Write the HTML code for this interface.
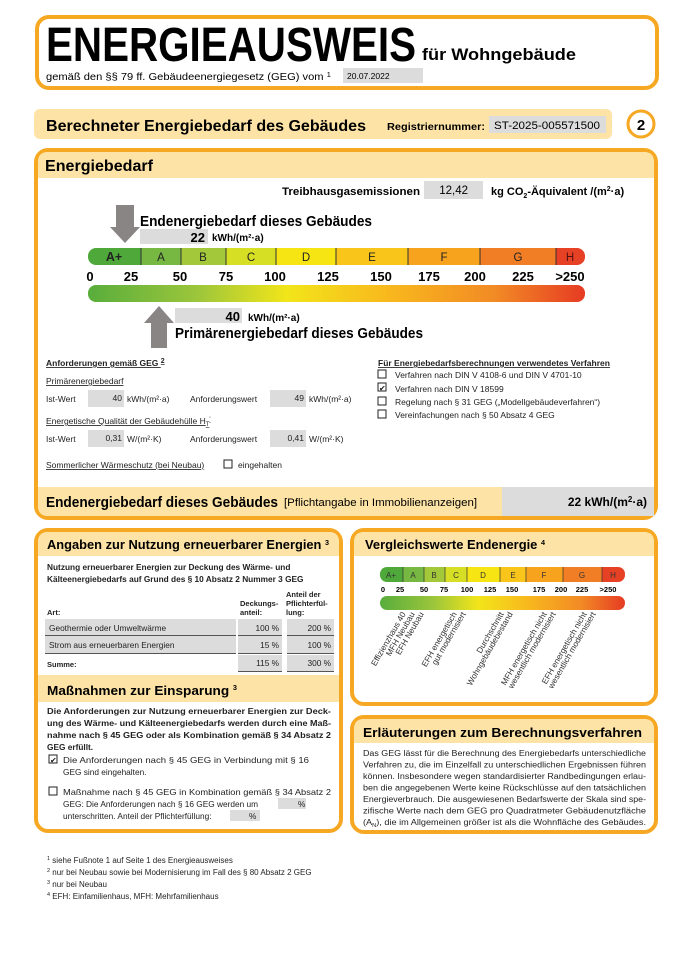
<!DOCTYPE html>
<html><head><meta charset="utf-8"><style>
html,body{margin:0;padding:0;background:#fff}
svg{display:block;font-family:"Liberation Sans",Arial,sans-serif}
</style></head><body>
<svg width="679" height="960" viewBox="0 0 679 960" xmlns="http://www.w3.org/2000/svg">
<defs>
<linearGradient id="g" x1="0" x2="1" y1="0" y2="0">
<stop offset="0" stop-color="#58ad3c"/><stop offset="0.22" stop-color="#9cc63b"/><stop offset="0.4" stop-color="#f2e51a"/><stop offset="0.6" stop-color="#f8b91d"/><stop offset="0.82" stop-color="#f28a25"/><stop offset="1" stop-color="#e63b24"/>
</linearGradient>
<clipPath id="c1"><rect x="88" y="248" width="497" height="17" rx="8"/></clipPath>
<clipPath id="c2"><rect x="380" y="567" width="245" height="15" rx="7"/></clipPath>
</defs>

<!-- Header -->
<rect x="37" y="17" width="620" height="71" rx="12" fill="#fff" stroke="#f7a823" stroke-width="4"/>
<text x="46" y="61" font-size="48" font-weight="bold" textLength="370" lengthAdjust="spacingAndGlyphs">ENERGIEAUSWEIS</text>
<text x="422" y="60" font-size="17" font-weight="bold" textLength="154" lengthAdjust="spacingAndGlyphs">für Wohngebäude</text>
<text x="46" y="80" font-size="10" textLength="285" lengthAdjust="spacingAndGlyphs">gemäß den §§ 79 ff. Gebäudeenergiegesetz (GEG) vom <tspan font-size="7" dy="-3">1</tspan></text>
<rect x="343" y="68" width="80" height="15" fill="#dcdcdc"/>
<text x="347" y="79" font-size="8.5">20.07.2022</text>

<!-- Bar 2 -->
<rect x="34" y="109" width="578" height="30" rx="6" fill="#fde3a6"/>
<text x="46" y="131" font-size="15.5" font-weight="bold" textLength="320" lengthAdjust="spacingAndGlyphs">Berechneter Energiebedarf des Gebäudes</text>
<text x="387" y="130" font-size="10.5" font-weight="bold" textLength="98" lengthAdjust="spacingAndGlyphs">Registriernummer:</text>
<rect x="489" y="116" width="117" height="17" fill="#dcdcdc"/>
<text x="494" y="129" font-size="11" textLength="106" lengthAdjust="spacingAndGlyphs">ST-2025-005571500</text>
<circle cx="641" cy="124" r="13" fill="#fff" stroke="#f7a823" stroke-width="3"/>
<text x="641" y="130" font-size="15" font-weight="bold" text-anchor="middle">2</text>

<!-- Energiebedarf panel -->
<rect x="36" y="150" width="620" height="368" rx="12" fill="#fff" stroke="#f7a823" stroke-width="4"/>
<path d="M38 178 V162 Q38 152 48 152 H644 Q654 152 654 162 V178 Z" fill="#fde3a6"/>
<text x="45" y="171" font-size="16" font-weight="bold" textLength="108" lengthAdjust="spacingAndGlyphs">Energiebedarf</text>

<text x="282" y="195" font-size="11" font-weight="bold" textLength="138" lengthAdjust="spacingAndGlyphs">Treibhausgasemissionen</text>
<rect x="424" y="181" width="59" height="18" fill="#dcdcdc"/>
<text x="468" y="194" font-size="11.5" text-anchor="end">12,42</text>
<text x="491" y="195" font-size="11" font-weight="bold">kg CO<tspan font-size="7" dy="3">2</tspan><tspan dy="-3">-Äquivalent /(m</tspan><tspan font-size="7" dy="-4">2</tspan><tspan dy="4">·a)</tspan></text>

<!-- arrow down -->
<rect x="116" y="205" width="18" height="23" fill="#8a8585"/>
<polygon points="110,227 140,227 125,243" fill="#8a8585"/>
<text x="140" y="226" font-size="14.5" font-weight="bold" textLength="232" lengthAdjust="spacingAndGlyphs">Endenergiebedarf dieses Gebäudes</text>
<rect x="140" y="229" width="68" height="15" fill="#dcdcdc"/>
<text x="205" y="242" font-size="13" font-weight="bold" text-anchor="end">22</text>
<text x="212" y="241" font-size="10" font-weight="bold">kWh/(m²·a)</text>

<!-- scale -->
<g clip-path="url(#c1)">
<rect x="88" y="248" width="53" height="17" fill="#4ea93a"/>
<rect x="141" y="248" width="40" height="17" fill="#77b842"/>
<rect x="181" y="248" width="45" height="17" fill="#a3c93a"/>
<rect x="226" y="248" width="50" height="17" fill="#d6df24"/>
<rect x="276" y="248" width="60" height="17" fill="#f6e413"/>
<rect x="336" y="248" width="72" height="17" fill="#f9c51a"/>
<rect x="408" y="248" width="72" height="17" fill="#f7a31e"/>
<rect x="480" y="248" width="76" height="17" fill="#f17e24"/>
<rect x="556" y="248" width="29" height="17" fill="#e64125"/>
</g>
<g stroke="#333" stroke-width="1"><line x1="141" y1="248" x2="141" y2="265"/><line x1="181" y1="248" x2="181" y2="265"/><line x1="226" y1="248" x2="226" y2="265"/><line x1="276" y1="248" x2="276" y2="265"/><line x1="336" y1="248" x2="336" y2="265"/><line x1="408" y1="248" x2="408" y2="265"/><line x1="480" y1="248" x2="480" y2="265"/><line x1="556" y1="248" x2="556" y2="265"/></g>
<g font-size="11.5" text-anchor="middle" fill="#222">
<text x="114" y="261" font-weight="bold" font-size="12.5">A+</text><text x="161" y="261">A</text><text x="203" y="261">B</text><text x="251" y="261">C</text><text x="306" y="261">D</text><text x="372" y="261">E</text><text x="444" y="261">F</text><text x="518" y="261">G</text><text x="570" y="261" fill="#511">H</text>
</g>
<g font-size="13" font-weight="bold" text-anchor="middle">
<text x="90" y="281">0</text><text x="131" y="281">25</text><text x="180" y="281">50</text><text x="226" y="281">75</text><text x="275" y="281">100</text><text x="328" y="281">125</text><text x="381" y="281">150</text><text x="429" y="281">175</text><text x="475" y="281">200</text><text x="523" y="281">225</text><text x="570" y="281">&gt;250</text>
</g>
<rect x="88" y="285" width="497" height="17" rx="8" fill="url(#g)"/>

<!-- arrow up -->
<polygon points="144,323 174,323 159,306" fill="#8a8585"/>
<rect x="151" y="322" width="16" height="26" fill="#8a8585"/>
<rect x="175" y="308" width="67" height="15" fill="#dcdcdc"/>
<text x="240" y="321" font-size="13" font-weight="bold" text-anchor="end">40</text>
<text x="248" y="321" font-size="10" font-weight="bold">kWh/(m²·a)</text>
<text x="175" y="338" font-size="14.5" font-weight="bold" textLength="248" lengthAdjust="spacingAndGlyphs">Primärenergiebedarf dieses Gebäudes</text>

<!-- requirements -->
<g font-size="8.5" fill="#222">
<text x="46" y="366" font-weight="bold" text-decoration="underline">Anforderungen gemäß GEG <tspan font-size="7" dy="-3">2</tspan></text>
<text x="46" y="384" text-decoration="underline">Primärenergiebedarf</text>
<text x="46" y="402">Ist-Wert</text>
<rect x="88" y="390" width="36" height="17" fill="#dcdcdc"/>
<text x="122" y="401" text-anchor="end">40</text>
<text x="127" y="402">kWh/(m²·a)</text>
<text x="190" y="402">Anforderungswert</text>
<rect x="270" y="390" width="36" height="17" fill="#dcdcdc"/>
<text x="304" y="401" text-anchor="end">49</text>
<text x="309" y="402">kWh/(m²·a)</text>
<text x="46" y="424" text-decoration="underline">Energetische Qualität der Gebäudehülle H<tspan font-size="6" dy="2">T</tspan><tspan font-size="6" dy="-5">'</tspan></text>
<text x="46" y="442">Ist-Wert</text>
<rect x="88" y="430" width="36" height="17" fill="#dcdcdc"/>
<text x="122" y="441" text-anchor="end">0,31</text>
<text x="127" y="442">W/(m²·K)</text>
<text x="190" y="442">Anforderungswert</text>
<rect x="270" y="430" width="36" height="17" fill="#dcdcdc"/>
<text x="304" y="441" text-anchor="end">0,41</text>
<text x="309" y="442">W/(m²·K)</text>
<text x="46" y="468" text-decoration="underline">Sommerlicher Wärmeschutz (bei Neubau)</text>
<rect x="224" y="460" width="8" height="8" fill="#fff" stroke="#222"/>
<text x="238" y="468">eingehalten</text>

<text x="378" y="366" font-weight="bold" text-decoration="underline">Für Energiebedarfsberechnungen verwendetes Verfahren</text>
<rect x="378" y="370" width="8" height="8" fill="#fff" stroke="#222"/><text x="395" y="378">Verfahren nach DIN V 4108-6 und DIN V 4701-10</text>
<rect x="378" y="383" width="8" height="8" fill="#fff" stroke="#222"/><text x="379" y="391" font-size="8">✔</text><text x="395" y="392">Verfahren nach DIN V 18599</text>
<rect x="378" y="397" width="8" height="8" fill="#fff" stroke="#222"/><text x="395" y="405">Regelung nach § 31 GEG („Modellgebäudeverfahren“)</text>
<rect x="378" y="410" width="8" height="8" fill="#fff" stroke="#222"/><text x="395" y="418">Vereinfachungen nach § 50 Absatz 4 GEG</text>
</g>

<!-- bottom band -->
<path d="M38 487 H654 V506 Q654 516 644 516 H48 Q38 516 38 506 Z" fill="#fde3a6"/>
<rect x="502" y="487" width="152" height="29" fill="#dcdcdc"/>
<text x="46" y="507" font-size="15" font-weight="bold" textLength="232" lengthAdjust="spacingAndGlyphs">Endenergiebedarf dieses Gebäudes</text>
<text x="284" y="506" font-size="11" textLength="193" lengthAdjust="spacingAndGlyphs">[Pflichtangabe in Immobilienanzeigen]</text>
<text x="647" y="506" font-size="12" font-weight="bold" text-anchor="end">22 kWh/(m<tspan font-size="8" dy="-4">2</tspan><tspan dy="4">·a)</tspan></text>

<!-- Left panel -->
<rect x="36" y="530" width="305" height="301" rx="12" fill="#fff" stroke="#f7a823" stroke-width="4"/>
<path d="M38 556 V542 Q38 532 48 532 H329 Q339 532 339 542 V556 Z" fill="#fde3a6"/>
<text x="47" y="549" font-size="12.5" font-weight="bold" textLength="282" lengthAdjust="spacingAndGlyphs">Angaben zur Nutzung erneuerbarer Energien <tspan font-size="7" dy="-4">3</tspan></text>
<g font-size="8.3" fill="#222">
<text x="47" y="570" font-weight="bold">Nutzung erneuerbarer Energien zur Deckung des Wärme- und</text>
<text x="47" y="582" font-weight="bold">Kälteenergiebedarfs auf Grund des § 10 Absatz 2 Nummer 3 GEG</text>
<text x="286" y="597" font-weight="bold" font-size="7.5">Anteil der</text>
<text x="286" y="606" font-weight="bold" font-size="7.5">Pflichterfül-</text>
<text x="286" y="615" font-weight="bold" font-size="7.5">lung:</text>
<text x="240" y="606" font-weight="bold" font-size="7.5">Deckungs-</text>
<text x="240" y="615" font-weight="bold" font-size="7.5">anteil:</text>
<text x="47" y="615" font-weight="bold" font-size="7.5">Art:</text>
<rect x="45" y="619" width="191" height="16" fill="#dcdcdc"/><rect x="238" y="619" width="44" height="16" fill="#dcdcdc"/><rect x="287" y="619" width="47" height="16" fill="#dcdcdc"/>
<rect x="45" y="636" width="191" height="17" fill="#dcdcdc"/><rect x="238" y="636" width="44" height="17" fill="#dcdcdc"/><rect x="287" y="636" width="47" height="17" fill="#dcdcdc"/>
<rect x="238" y="655" width="44" height="16" fill="#dcdcdc"/><rect x="287" y="655" width="47" height="16" fill="#dcdcdc"/>
<g stroke="#555" stroke-width="1"><line x1="45" y1="635.5" x2="236" y2="635.5"/><line x1="238" y1="635.5" x2="282" y2="635.5"/><line x1="287" y1="635.5" x2="334" y2="635.5"/><line x1="45" y1="653.5" x2="236" y2="653.5"/><line x1="238" y1="653.5" x2="282" y2="653.5"/><line x1="287" y1="653.5" x2="334" y2="653.5"/><line x1="238" y1="671.5" x2="282" y2="671.5"/><line x1="287" y1="671.5" x2="334" y2="671.5"/></g>
<text x="49" y="631">Geothermie oder Umweltwärme</text><text x="279" y="631" text-anchor="end">100 %</text><text x="331" y="631" text-anchor="end">200 %</text>
<text x="49" y="648">Strom aus erneuerbaren Energien</text><text x="279" y="648" text-anchor="end">15 %</text><text x="331" y="648" text-anchor="end">100 %</text>
<text x="47" y="667" font-weight="bold" font-size="7.5">Summe:</text><text x="279" y="666" text-anchor="end">115 %</text><text x="331" y="666" text-anchor="end">300 %</text>
</g>
<rect x="38" y="675" width="301" height="27" fill="#fde3a6"/>
<text x="47" y="695" font-size="13" font-weight="bold" textLength="190" lengthAdjust="spacingAndGlyphs">Maßnahmen zur Einsparung <tspan font-size="7" dy="-5">3</tspan></text>
<g font-size="8.3" fill="#222">
<text x="47" y="714" font-weight="bold" textLength="284" lengthAdjust="spacingAndGlyphs">Die Anforderungen zur Nutzung erneuerbarer Energien zur Deck-</text>
<text x="47" y="726" font-weight="bold" textLength="284" lengthAdjust="spacingAndGlyphs">ung des Wärme- und Kälteenergiebedarfs werden durch eine Maß-</text>
<text x="47" y="738" font-weight="bold" textLength="284" lengthAdjust="spacingAndGlyphs">nahme nach § 45 GEG oder als Kombination gemäß § 34 Absatz 2</text>
<text x="47" y="750" font-weight="bold">GEG erfüllt.</text>
<rect x="49" y="755" width="8" height="8" fill="#fff" stroke="#222"/><text x="50" y="763" font-size="8">✔</text>
<text x="63" y="763" textLength="246" lengthAdjust="spacingAndGlyphs">Die Anforderungen nach § 45 GEG in Verbindung mit § 16</text>
<text x="63" y="775">GEG sind eingehalten.</text>
<rect x="49" y="787" width="8" height="8" fill="#fff" stroke="#222"/>
<text x="63" y="795" textLength="268" lengthAdjust="spacingAndGlyphs">Maßnahme nach § 45 GEG in Kombination gemäß § 34 Absatz 2</text>
<text x="63" y="807">GEG: Die Anforderungen nach § 16 GEG werden um</text>
<rect x="278" y="798" width="28" height="11" fill="#dcdcdc"/><text x="298" y="807">%</text>
<text x="63" y="819">unterschritten. Anteil der Pflichterfüllung:</text>
<rect x="230" y="810" width="30" height="11" fill="#dcdcdc"/><text x="249" y="819">%</text>
</g>

<!-- Vergleichswerte -->
<rect x="352" y="530" width="304" height="174" rx="12" fill="#fff" stroke="#f7a823" stroke-width="4"/>
<path d="M354 556 V542 Q354 532 364 532 H644 Q654 532 654 542 V556 Z" fill="#fde3a6"/>
<text x="365" y="549" font-size="12.5" font-weight="bold" textLength="180" lengthAdjust="spacingAndGlyphs">Vergleichswerte Endenergie <tspan font-size="7" dy="-4">4</tspan></text>
<g clip-path="url(#c2)">
<rect x="380" y="567" width="23" height="15" fill="#4ea93a"/><rect x="403" y="567" width="21" height="15" fill="#77b842"/><rect x="424" y="567" width="21" height="15" fill="#a3c93a"/><rect x="445" y="567" width="22" height="15" fill="#d6df24"/><rect x="467" y="567" width="33" height="15" fill="#f6e413"/><rect x="500" y="567" width="26" height="15" fill="#f9c51a"/><rect x="526" y="567" width="37" height="15" fill="#f7a31e"/><rect x="563" y="567" width="39" height="15" fill="#f17e24"/><rect x="602" y="567" width="23" height="15" fill="#e64125"/>
</g>
<g stroke="#333" stroke-width="0.7"><line x1="403" y1="567" x2="403" y2="582"/><line x1="424" y1="567" x2="424" y2="582"/><line x1="445" y1="567" x2="445" y2="582"/><line x1="467" y1="567" x2="467" y2="582"/><line x1="500" y1="567" x2="500" y2="582"/><line x1="526" y1="567" x2="526" y2="582"/><line x1="563" y1="567" x2="563" y2="582"/><line x1="602" y1="567" x2="602" y2="582"/></g>
<g font-size="8" text-anchor="middle" fill="#333"><text x="391" y="578">A+</text><text x="413" y="578">A</text><text x="434" y="578">B</text><text x="456" y="578">C</text><text x="483" y="578">D</text><text x="513" y="578">E</text><text x="544" y="578">F</text><text x="582" y="578">G</text><text x="613" y="578">H</text></g>
<g font-size="7.5" font-weight="bold" text-anchor="middle"><text x="383" y="592">0</text><text x="400" y="592">25</text><text x="424" y="592">50</text><text x="444" y="592">75</text><text x="467" y="592">100</text><text x="490" y="592">125</text><text x="512" y="592">150</text><text x="539" y="592">175</text><text x="561" y="592">200</text><text x="582" y="592">225</text><text x="608" y="592">&gt;250</text></g>
<rect x="380" y="596" width="245" height="14" rx="7" fill="url(#g)"/>
<g font-size="8.3" fill="#333" text-anchor="end">
<text transform="translate(406,614) rotate(-60)">Effizienzhaus 40</text>
<text transform="translate(415,614) rotate(-60)">MFH Neubau</text>
<text transform="translate(424,614) rotate(-60)">EFH Neubau</text>
<text transform="translate(457,614) rotate(-60)">EFH energetisch</text>
<text transform="translate(466,614) rotate(-60)">gut modernisiert</text>
<text transform="translate(504,614) rotate(-60)">Durchschnitt</text>
<text transform="translate(513,614) rotate(-60)">Wohngebäudebestand</text>
<text transform="translate(547,614) rotate(-60)">MFH energetisch nicht</text>
<text transform="translate(556,614) rotate(-60)">wesentlich modernisiert</text>
<text transform="translate(587,614) rotate(-60)">EFH energetisch nicht</text>
<text transform="translate(596,614) rotate(-60)">wesentlich modernisiert</text>
</g>

<!-- Erläuterungen -->
<rect x="352" y="717" width="304" height="115" rx="12" fill="#fff" stroke="#f7a823" stroke-width="4"/>
<path d="M354 743 V729 Q354 719 364 719 H644 Q654 719 654 729 V743 Z" fill="#fde3a6"/>
<text x="363" y="737" font-size="12.5" font-weight="bold" textLength="279" lengthAdjust="spacingAndGlyphs">Erläuterungen zum Berechnungsverfahren</text>
<g font-size="8" fill="#222">
<text x="363" y="756" textLength="283" lengthAdjust="spacingAndGlyphs">Das GEG lässt für die Berechnung des Energiebedarfs unterschiedliche</text>
<text x="363" y="767.5" textLength="283" lengthAdjust="spacingAndGlyphs">Verfahren zu, die im Einzelfall zu unterschiedlichen Ergebnissen führen</text>
<text x="363" y="779" textLength="283" lengthAdjust="spacingAndGlyphs">können. Insbesondere wegen standardisierter Randbedingungen erlau-</text>
<text x="363" y="790.5" textLength="283" lengthAdjust="spacingAndGlyphs">ben die angegebenen Werte keine Rückschlüsse auf den tatsächlichen</text>
<text x="363" y="802" textLength="283" lengthAdjust="spacingAndGlyphs">Energieverbrauch. Die ausgewiesenen Bedarfswerte der Skala sind spe-</text>
<text x="363" y="813.5" textLength="283" lengthAdjust="spacingAndGlyphs">zifische Werte nach dem GEG pro Quadratmeter Gebäudenutzfläche</text>
<text x="363" y="825" textLength="283" lengthAdjust="spacingAndGlyphs">(A<tspan font-size="5" dy="2">N</tspan><tspan dy="-2">), die im Allgemeinen größer ist als die Wohnfläche des Gebäudes.</tspan></text>
</g>

<!-- Footnotes -->
<g font-size="8" fill="#222">
<text x="47" y="863"><tspan font-size="5.5" dy="-3">1</tspan><tspan dy="3"> siehe Fußnote 1 auf Seite 1 des Energieausweises</tspan></text>
<text x="47" y="875"><tspan font-size="5.5" dy="-3">2</tspan><tspan dy="3"> nur bei Neubau sowie bei Modernisierung im Fall des § 80 Absatz 2 GEG</tspan></text>
<text x="47" y="887"><tspan font-size="5.5" dy="-3">3</tspan><tspan dy="3"> nur bei Neubau</tspan></text>
<text x="47" y="899"><tspan font-size="5.5" dy="-3">4</tspan><tspan dy="3"> EFH: Einfamilienhaus, MFH: Mehrfamilienhaus</tspan></text>
</g>
</svg>
</body></html>
